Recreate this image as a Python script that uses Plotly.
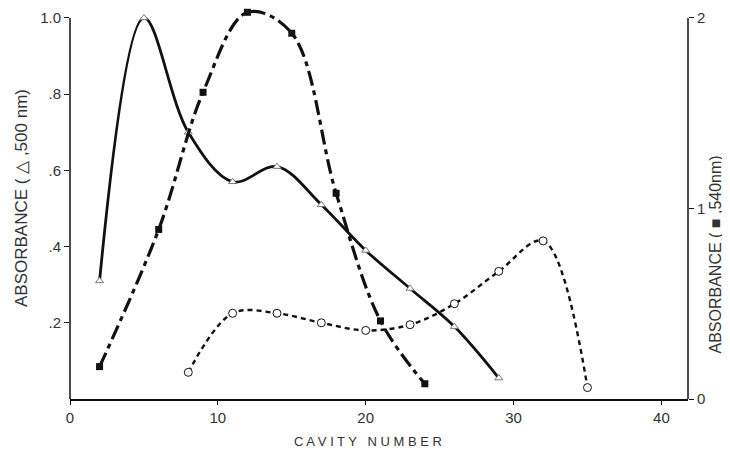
import plotly.graph_objects as go

# Data
tri_x = [2, 5, 8, 11, 14, 17, 20, 23, 26, 29]
tri_y = [0.31, 1.0, 0.70, 0.57, 0.61, 0.51, 0.39, 0.29, 0.19, 0.055]

sq_x = [2, 6, 9, 12, 15, 18, 21, 24]
sq_y = [0.17, 0.89, 1.61, 2.03, 1.92, 1.08, 0.41, 0.08]

circ_x = [8, 11, 14, 17, 20, 23, 26, 29, 32, 35]
circ_y = [0.07, 0.225, 0.225, 0.20, 0.18, 0.195, 0.25, 0.335, 0.415, 0.03]

x_ticks = [0, 10, 20, 30, 40]
left_ticks = [0.2, 0.4, 0.6, 0.8, 1.0]
left_labels = [".2", ".4", ".6", ".8", "1.0"]
right_ticks = [0, 1, 2]
left_max, right_max = 1.0, 2.0

INK = "#111111"
TXT = "#333333"
FONT = "Liberation Sans"

fig = go.Figure()

fig.add_trace(go.Scatter(
    x=tri_x, y=tri_y, mode="lines+markers",
    line=dict(color=INK, width=2.8, shape="spline", smoothing=1.0),
    marker=dict(symbol="triangle-up", size=7, color="white",
                line=dict(color="#777777", width=1)),
    cliponaxis=False, showlegend=False))

fig.add_trace(go.Scatter(
    x=circ_x, y=circ_y, mode="lines+markers",
    line=dict(color=INK, width=2.4, dash="5px,4px", shape="spline", smoothing=1.0),
    marker=dict(symbol="circle", size=8, color="white",
                line=dict(color=INK, width=1)),
    cliponaxis=False, showlegend=False))

fig.add_trace(go.Scatter(
    x=sq_x, y=sq_y, mode="lines+markers", yaxis="y2",
    line=dict(color=INK, width=3.2, dash="15px,5px,5px,5px", shape="spline", smoothing=1.0),
    marker=dict(symbol="square", size=7, color=INK),
    cliponaxis=False, showlegend=False))

# head-room above the top tick so the ■ curve can rise above it
head = 1.0262

common = dict(ticks="outside", ticklen=5, tickcolor=INK, tickwidth=1.2,
              automargin=False, showgrid=False, zeroline=False,
              tickfont=dict(size=15, color=TXT))

fig.update_layout(
    width=722, height=448,
    margin=dict(l=62, r=42, t=0, b=57, autoexpand=False),
    paper_bgcolor="white", plot_bgcolor="white",
    font=dict(family=FONT, color=TXT, size=14),
    xaxis=dict(range=[0, 41.8], tickvals=x_ticks, showline=True,
               linecolor=INK, linewidth=1.5, **{**common, "ticklen": 4}),
    yaxis=dict(range=[0, left_max * head], tickvals=left_ticks,
               ticktext=left_labels, showline=False, **common),
    yaxis2=dict(range=[0, right_max * head], tickvals=right_ticks,
                overlaying="y", side="right", showline=False, **common),
    shapes=[
        dict(type="line", xref="paper", x0=0, x1=0, yref="y", y0=0, y1=left_max,
             line=dict(color=INK, width=1.5)),
        dict(type="line", xref="paper", x0=1, x1=1, yref="y2", y0=0, y1=right_max,
             line=dict(color=INK, width=1.5)),
    ],
    annotations=[
        dict(text="C A V I T Y &nbsp; N U M B E R", xref="paper", yref="paper",
             x=0.482, y=-0.108, xanchor="center", yanchor="middle",
             showarrow=False, font=dict(size=13, color=TXT)),
        dict(text="ABSORBANCE ( △ ,500 nm)", xref="paper", yref="paper",
             x=-0.0793, y=0.514, xanchor="center", yanchor="middle", textangle=-90,
             showarrow=False, font=dict(size=17, color=TXT)),
        dict(text="ABSORBANCE ( ■ ,540nm)", xref="paper", yref="paper",
             x=1.044, y=0.37, xanchor="center", yanchor="middle", textangle=-90,
             showarrow=False, font=dict(size=16, color=TXT)),
    ],
)

fig.write_html("out.html")
